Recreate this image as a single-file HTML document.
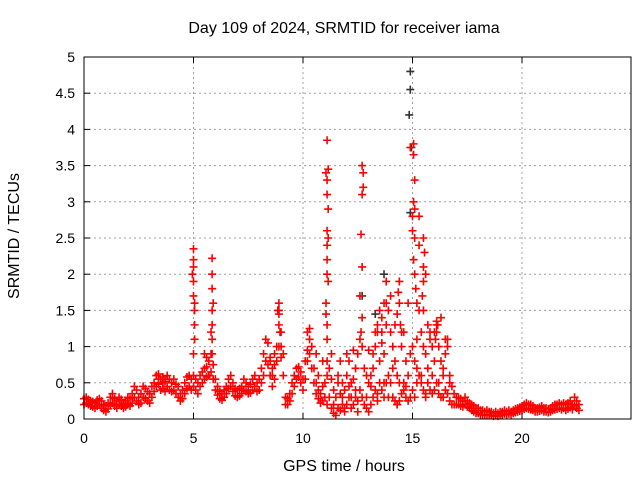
<!DOCTYPE html>
<html><head><meta charset="utf-8"><style>
body{margin:0;background:#fff}
svg text{font-family:"Liberation Sans",sans-serif;font-size:14px;fill:#000}
svg text.big{font-size:16px}
</style></head><body>
<svg id="chart" width="640" height="480" xmlns="http://www.w3.org/2000/svg">
<rect width="640" height="480" fill="#fff"/>
<g id="grid"></g><g id="marks"></g><g id="axes"></g>
<text class="big" x="344" y="33" text-anchor="middle">Day 109 of 2024, SRMTID for receiver iama</text>
<text class="big" x="344" y="471" text-anchor="middle">GPS time / hours</text>
<text class="big" transform="translate(19,236) rotate(-90)" text-anchor="middle">SRMTID / TECUs</text>
</svg>
<script>
const xTicks=[0,5,10,15,20];
const yTicks=[0,0.5,1,1.5,2,2.5,3,3.5,4,4.5,5];
const yTickLabels=["0","0.5","1","1.5","2","2.5","3","3.5","4","4.5","5"];
const step=0.1;
const hiVals=[0.28,0.3,0.27,0.25,0.24,0.22,0.26,0.28,0.25,0.2,
0.18,0.22,0.3,0.35,0.28,0.25,0.3,0.27,0.22,0.25,
0.3,0.28,0.35,0.45,0.4,0.3,0.35,0.45,0.42,0.38,
0.35,0.45,0.5,0.6,0.62,0.55,0.58,0.52,0.6,0.55,
0.5,0.55,0.48,0.45,0.35,0.4,0.5,0.58,0.6,0.55,
0.6,0.55,0.5,0.6,0.65,0.7,0.72,0.8,0.9,0.75,
0.55,0.45,0.38,0.35,0.4,0.45,0.55,0.6,0.5,0.42,
0.4,0.42,0.45,0.55,0.5,0.45,0.48,0.55,0.6,0.5,
0.55,0.7,0.9,1.1,1.05,0.8,0.6,0.75,1.0,1.5,
1.2,0.9,0.3,0.28,0.35,0.5,0.6,0.7,0.72,0.65,
0.55,0.8,1.2,1.25,1.0,0.7,0.5,0.4,0.35,0.45,
0.5,0.6,0.7,0.55,0.4,0.3,0.5,0.35,0.5,0.4,
0.6,0.8,0.5,0.55,0.7,0.9,1.1,1.0,0.7,0.6,
0.5,0.6,0.9,1.0,1.3,1.5,1.2,0.9,1.3,1.5,
1.2,1.0,0.8,0.6,0.5,1.0,1.2,0.8,0.6,0.9,
1.0,0.8,1.1,1.5,1.2,1.0,0.9,1.3,1.2,1.0,
1.2,1.3,1.0,0.8,0.7,1.1,1.0,0.6,0.45,0.35,
0.3,0.3,0.28,0.25,0.3,0.25,0.22,0.2,0.18,0.15,
0.15,0.12,0.12,0.1,0.12,0.1,0.1,0.08,0.1,0.08,
0.1,0.1,0.12,0.1,0.12,0.1,0.12,0.14,0.15,0.16,
0.18,0.2,0.22,0.2,0.2,0.18,0.15,0.15,0.16,0.18,
0.15,0.15,0.14,0.15,0.18,0.2,0.2,0.22,0.2,0.22,
0.2,0.22,0.25,0.2,0.3,0.25,0.2];
const loVals=[0.2,0.22,0.2,0.18,0.17,0.15,0.18,0.2,0.15,0.12,
0.1,0.14,0.2,0.22,0.18,0.15,0.2,0.18,0.15,0.17,
0.2,0.18,0.22,0.3,0.25,0.2,0.22,0.3,0.28,0.25,
0.22,0.3,0.38,0.45,0.48,0.4,0.42,0.38,0.45,0.4,
0.38,0.4,0.35,0.3,0.25,0.28,0.35,0.42,0.45,0.4,
0.45,0.4,0.35,0.45,0.5,0.55,0.58,0.6,0.65,0.55,
0.4,0.33,0.28,0.26,0.3,0.35,0.42,0.45,0.38,0.32,
0.3,0.32,0.35,0.4,0.38,0.35,0.36,0.4,0.45,0.38,
0.4,0.5,0.6,0.8,0.75,0.6,0.45,0.55,0.8,1.0,
0.85,0.6,0.2,0.2,0.25,0.35,0.45,0.55,0.58,0.5,
0.4,0.55,0.8,0.9,0.7,0.5,0.35,0.28,0.22,0.25,
0.3,0.2,0.3,0.15,0.08,0.05,0.15,0.12,0.2,0.15,
0.2,0.3,0.15,0.2,0.3,0.25,0.4,0.3,0.2,0.15,
0.1,0.2,0.3,0.4,0.35,0.5,0.4,0.3,0.5,0.6,
0.5,0.3,0.25,0.2,0.25,0.35,0.4,0.3,0.25,0.3,
0.4,0.3,0.5,0.6,0.5,0.4,0.35,0.5,0.4,0.35,
0.4,0.5,0.35,0.3,0.3,0.4,0.35,0.25,0.2,0.2,
0.2,0.2,0.18,0.17,0.2,0.17,0.15,0.12,0.1,0.08,
0.08,0.06,0.06,0.05,0.06,0.05,0.05,0.04,0.05,0.04,
0.05,0.06,0.07,0.06,0.07,0.06,0.08,0.09,0.1,0.11,
0.12,0.14,0.15,0.14,0.13,0.12,0.1,0.1,0.11,0.12,
0.1,0.1,0.09,0.1,0.12,0.13,0.14,0.15,0.13,0.15,
0.12,0.14,0.16,0.13,0.18,0.15,0.12];
const extraT=[10.6,10.7,10.9,11.3,11.4,11.6,11.7,11.8,11.9,12.0,12.1,12.2,12.3,12.4,12.5,12.9,13.0,13.1,13.2,13.3,13.4,13.5,13.6,13.7,13.8,13.9,14.0,14.1,14.2,14.3,14.5,14.6,14.7,14.8,15.2,15.4,15.6,15.7,15.8,15.9,16.0,16.2,16.3,16.4,16.5,16.6,16.7,8.5,8.6,8.7,9.0,10.2,10.3,5.5,5.6,5.7,3.4,3.6];
const extraV=[0.9,0.6,0.8,0.9,0.2,0.6,0.8,0.3,0.1,0.9,0.45,0.3,0.95,0.4,0.1,0.3,0.95,0.45,0.7,1.2,0.25,0.8,1.05,0.5,1.6,0.3,1.7,0.7,1.3,0.2,1.2,0.5,0.45,1.6,0.7,0.6,0.3,0.7,1.1,0.6,0.8,0.5,1.4,0.6,0.9,1.1,0.5,0.85,0.7,0.9,1.0,0.95,1.1,0.9,0.85,0.6,0.55,0.5];
const spikeT=[5.0,5.0,5.0,5.0,5.0,5.05,5.05,5.05,5.0,4.95,5.05,
5.85,5.85,5.85,5.85,5.85,5.85,5.85,5.9,5.8,
8.9,8.9,8.9,8.85,8.95,
11.1,11.15,11.1,11.1,11.15,11.1,11.1,11.1,11.15,11.05,11.1,11.1,11.1,11.05,11.15,11.1,11.05,
12.7,12.75,12.7,12.65,12.7,12.6,12.7,12.75,12.65,
14.4,14.35,14.4,14.3,14.45,
14.9,15.05,15.05,15.1,15.05,15.1,15.0,15.1,15.05,15.1,15.3,15.3,15.0,15.15,15.2,
15.5,15.55,15.5,15.5,15.45,15.5,15.6,16.1,16.1,16.05,16.15,13.6,13.4,13.7,13.8];
const spikeV=[2.35,2.2,2.1,1.9,1.7,1.5,1.3,1.1,0.9,2.0,1.6,
2.22,2.0,1.8,1.5,1.3,1.1,0.9,1.6,1.2,
1.6,1.45,1.3,1.5,1.2,
3.85,3.45,3.3,3.1,2.9,2.6,2.4,2.2,1.9,1.6,1.3,1.1,0.8,3.4,2.5,2.0,1.45,
3.5,3.4,3.1,2.55,2.1,1.7,1.4,3.2,1.2,
1.9,1.75,1.6,1.45,1.3,
3.75,3.8,3.65,3.3,3.0,2.9,2.8,2.5,2.2,2.0,2.8,2.4,2.6,1.8,1.6,
2.5,2.3,2.1,1.9,1.7,1.5,2.0,1.35,1.2,1.1,1.3,1.4,1.2,1.6,1.9];
const blackT=[14.9,14.9,14.85,14.95,14.9,13.7,12.7,13.3];
const blackV=[4.8,4.55,4.2,3.75,2.85,2.0,1.7,1.45];
const X0=84,XS=21.9,Y0=419,YS=72.4,XR=631;
const xs=t=>X0+t*XS, ys=v=>Y0-v*YS;
const NS="http://www.w3.org/2000/svg";
function mk(tag,attrs,parent){const e=document.createElementNS(NS,tag);for(const k in attrs)e.setAttribute(k,attrs[k]);parent.appendChild(e);return e;}
const grid=document.getElementById('grid'),marks=document.getElementById('marks'),axes=document.getElementById('axes');
yTicks.forEach((v,i)=>{
 if(i>0&&i<yTicks.length-1){const g=mk('line',{x1:X0,x2:XR,y1:ys(v),y2:ys(v),stroke:'#a0a0a0','stroke-dasharray':'2,3'},grid);
 
 }
 const t=mk('text',{x:X0-9,y:ys(v)+5,'text-anchor':'end'},axes);t.textContent=yTickLabels[i];
 
 
 mk('line',{x1:X0,x2:X0+6,y1:ys(v),y2:ys(v),stroke:'#000'},axes);
});
xTicks.forEach(v=>{
 if(v>0){const g=mk('line',{x1:xs(v),x2:xs(v),y1:57,y2:Y0,stroke:'#a0a0a0','stroke-dasharray':'2,3'},grid);
 
 }
 const t=mk('text',{x:xs(v),y:Y0+24,'text-anchor':'middle'},axes);t.textContent=String(v);
 
 
 mk('line',{x1:xs(v),x2:xs(v),y1:Y0,y2:Y0-6,stroke:'#000'},axes);
 mk('line',{x1:xs(v),x2:xs(v),y1:57,y2:63,stroke:'#000'},axes);
});
const box=mk('rect',{x:X0,y:57,width:XR-X0,height:Y0-57,fill:'none',stroke:'#000','stroke-width':1},axes);


function plus(t,v,col,name){
 const p=mk('path',{d:`M${xs(t)-4},${ys(v)}h8M${xs(t)},${ys(v)-4}v8`,stroke:col,'stroke-width':1.6,fill:'none'},marks);
 
 
}
blackT.forEach((t,i)=>plus(t,blackV[i],'#333','black-point'));
loVals.forEach((v,i)=>plus(i*step,v,'#f00','srmtid-point'));
hiVals.forEach((v,i)=>plus(i*step,v,'#f00','srmtid-point'));
extraT.forEach((t,i)=>plus(t,extraV[i],'#f00','srmtid-scatter-point'));
spikeT.forEach((t,i)=>plus(t,spikeV[i],'#f00','srmtid-spike-point'));
</script>
</body></html>
